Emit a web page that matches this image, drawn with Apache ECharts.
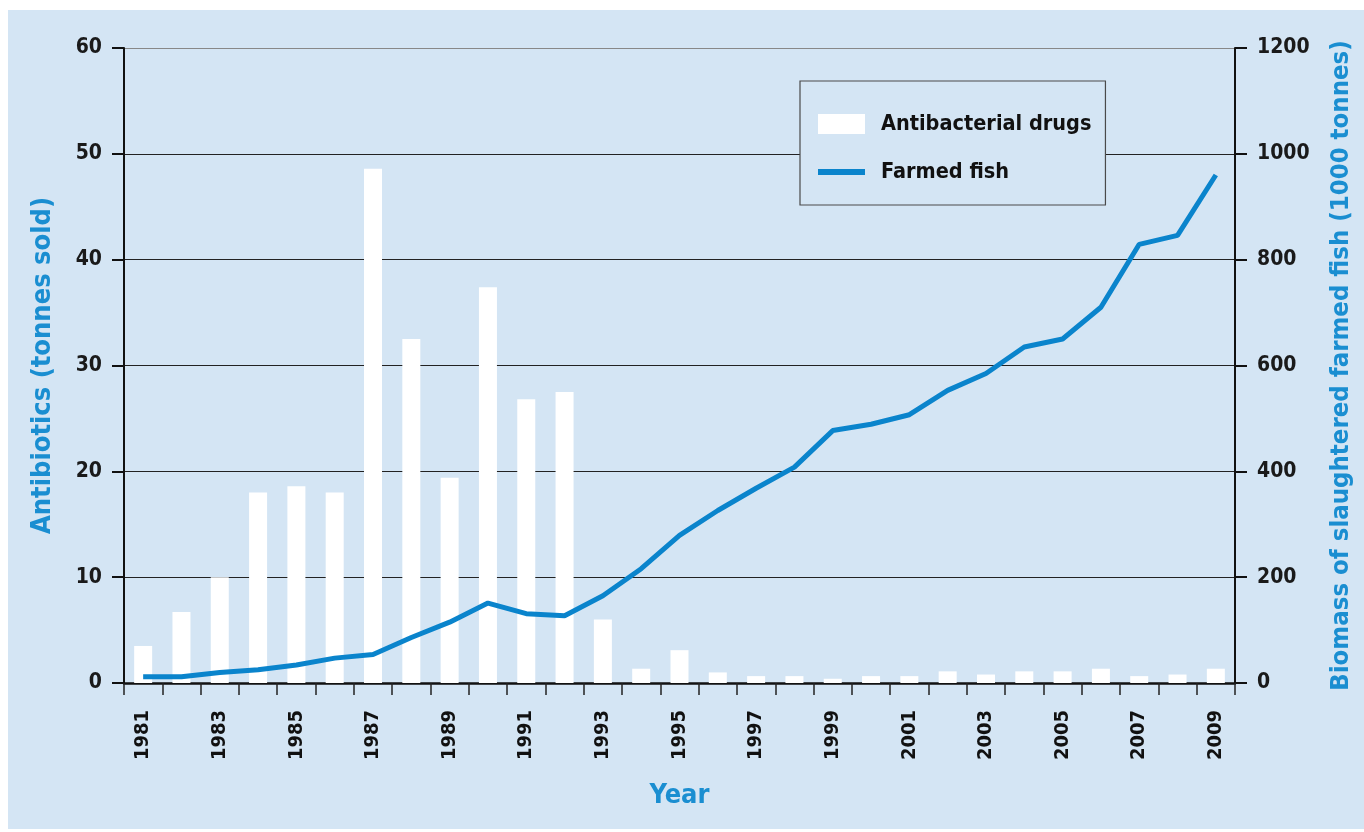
<!DOCTYPE html>
<html>
<head>
<meta charset="utf-8">
<script src="https://cdn.jsdelivr.net/npm/echarts@6/dist/echarts.min.js"></script>
<style>
html,body{margin:0;padding:0;background:#ffffff;overflow:hidden;}
#chart{width:1364px;height:832px;}
</style>
</head>
<body>
<div id="chart"></div>
<script>
const years = ['1981','1982','1983','1984','1985','1986','1987','1988','1989','1990','1991','1992','1993','1994','1995','1996','1997','1998','1999','2000','2001','2002','2003','2004','2005','2006','2007','2008','2009'];
const antibacterialDrugs = [3.5,6.7,10.0,18.0,18.6,18.0,48.6,32.5,19.4,37.4,26.8,27.5,6.0,1.35,3.1,1.0,0.65,0.65,0.4,0.65,0.65,1.1,0.8,1.1,1.1,1.35,0.65,0.8,1.35];
const farmedFish = [12,12,20,25,34,47,54,86,115,151,131,127,165,216,279,326,368,408,477,489,507,553,585,635,650,710,829,846,960];
const leftTicks = {min:0, max:60, interval:10};
const rightTicks = {min:0, max:1200, interval:200};

const FONT = '"Liberation Sans Narrow","DejaVu Sans Condensed","Liberation Sans",sans-serif';
const BLUE = '#1a8ed1';
const LINE_BLUE = '#0a84cc';
const BG = '#d4e5f4';

const chart = echarts.init(document.getElementById('chart'), null, {renderer:'canvas'});
chart.setOption({
  backgroundColor: '#ffffff',
  animation: false,
  graphic: [{
    type: 'rect', left: 8, top: 10, z: -10,
    shape: {width: 1356, height: 819},
    style: {fill: BG}
  }],
  grid: {left: 124, right: 129, top: 48, bottom: 149, outerBoundsMode: 'none', containLabel: false},
  legend: {
    left: 800, top: 81, orient: 'vertical',
    padding: [32, 14, 22, 18],
    itemGap: 26, itemWidth: 47, itemHeight: 20,
    borderColor: '#4a4a4a', borderWidth: 1.2,
    backgroundColor: BG,
    textStyle: {fontFamily: FONT, fontSize: 21.5, fontWeight: 'bold', color: '#111', padding: [0,0,0,11]},
    data: [
      {name: 'Antibacterial drugs', icon: 'rect', itemStyle: {color: '#ffffff'}},
      {name: 'Farmed fish', icon: 'path://M0,0L47,0L47,6L0,6Z', symbolKeepAspect: true, itemStyle: {color: LINE_BLUE}}
    ]
  },
  xAxis: {
    type: 'category', data: years,
    name: 'Year', nameLocation: 'middle', nameGap: 99,
    nameTextStyle: {fontFamily: FONT, fontSize: 27, fontWeight: 'bold', color: BLUE},
    axisLine: {lineStyle: {color: '#111', width: 2.5}},
    axisTick: {show: true, interval: 0, length: 12, lineStyle: {color: '#222', width: 1.5}},
    axisLabel: {interval: 1, rotate: 90, margin: 27, fontFamily: FONT, fontSize: 20, fontWeight: 'bold', color: '#111'},
    splitLine: {show: false}
  },
  yAxis: [{
    type: 'value', min: leftTicks.min, max: leftTicks.max, interval: leftTicks.interval,
    name: 'Antibiotics (tonnes sold)', nameLocation: 'middle', nameGap: 68,
    nameTextStyle: {fontFamily: FONT, fontSize: 27, fontWeight: 'bold', color: BLUE},
    axisLine: {show: true, lineStyle: {color: '#111', width: 2}},
    axisTick: {show: true, length: 12, lineStyle: {color: '#111', width: 2}},
    axisLabel: {margin: 22, fontFamily: FONT, fontSize: 21, fontWeight: 'bold', color: '#1a1a1a', formatter: v => String(v)},
    splitLine: {show: true, lineStyle: {color: ['#222','#222','#222','#222','#222','#222','#888'], width: 1.2}}
  }, {
    type: 'value', min: rightTicks.min, max: rightTicks.max, interval: rightTicks.interval,
    name: 'Biomass of slaughtered farmed fish (1000 tonnes)', nameLocation: 'middle', nameGap: 93,
    nameRotate: 90,
    nameTextStyle: {fontFamily: FONT, fontSize: 25.5, fontWeight: 'bold', color: BLUE},
    axisLine: {show: true, lineStyle: {color: '#111', width: 2}},
    axisTick: {show: true, length: 12, lineStyle: {color: '#111', width: 2}},
    axisLabel: {margin: 22, fontFamily: FONT, fontSize: 21, fontWeight: 'bold', color: '#1a1a1a', formatter: v => String(v)},
    splitLine: {show: false}
  }],
  series: [{
    name: 'Antibacterial drugs', type: 'bar', yAxisIndex: 0,
    data: antibacterialDrugs, barWidth: 18,
    itemStyle: {color: '#ffffff'}
  }, {
    name: 'Farmed fish', type: 'line', yAxisIndex: 1,
    data: farmedFish, symbol: 'none',
    lineStyle: {color: LINE_BLUE, width: 5},
    itemStyle: {color: LINE_BLUE}
  }]
});
</script>
</body>
</html>
